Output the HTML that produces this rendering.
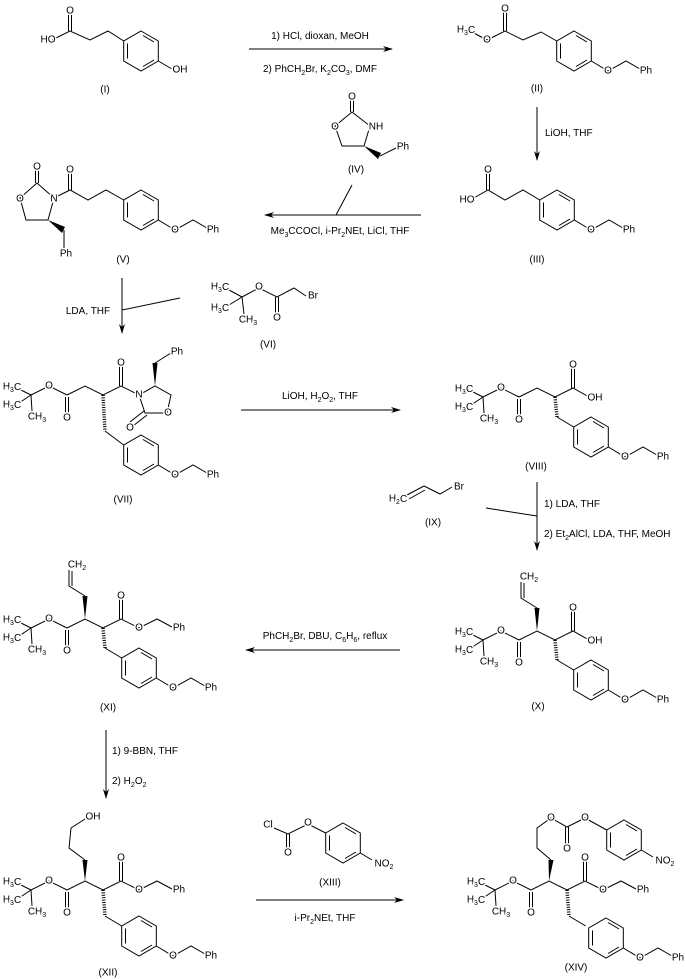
<!DOCTYPE html>
<html><head><meta charset="utf-8"><style>
html,body{margin:0;padding:0;background:#fff}
svg{display:block}
.t{font-family:"Liberation Sans",Arial,sans-serif;font-size:10px;text-anchor:middle;dominant-baseline:central;fill:#000;paint-order:stroke;stroke:#fff;stroke-width:3px;stroke-linejoin:round}
.r{font-family:"Liberation Sans",Arial,sans-serif;font-size:10px;fill:#000;text-anchor:middle}
.s{font-size:7px}
path,line{stroke:#000;stroke-width:1;fill:none}
.h{stroke-width:3.5;stroke-dasharray:1 1.4}
</style></head><body>
<svg width="685" height="979" viewBox="0 0 685 979" xmlns="http://www.w3.org/2000/svg">
<defs>
<g id="ring"><path d="M0,-20 L17.3,-10 L17.3,10 L0,20 L-17.3,10 L-17.3,-10 Z M-13.5,-7.5 L-13.5,7.5 M2,-15.5 L13,-9 M13,9 L2,15.5"/></g>
<g id="arobn"><use href="#ring"/><path d="M17.3,10 L34,20 L52,10 L66,18"/></g>
<g id="tbu"><path d="M0,0 L-12,-6 M0,0 L-12,8 M0,0 L1,16 M0,0 L18,-9 L36,0 M34.5,2 L34.5,20 M37.5,2 L37.5,20"/></g>
<marker id="ah" markerWidth="10" markerHeight="6" refX="9" refY="3" orient="auto" markerUnits="userSpaceOnUse"><path d="M0,0 L10,3 L0,6 L3,3 Z" style="fill:#000;stroke:none"/></marker>
</defs>

<!-- arrows -->
<line x1="249" y1="49" x2="392" y2="49" marker-end="url(#ah)"/>
<line x1="537" y1="107" x2="537" y2="160" marker-end="url(#ah)"/>
<line x1="421" y1="215" x2="265" y2="215" marker-end="url(#ah)"/>
<line x1="336" y1="215" x2="352" y2="185"/>
<line x1="122" y1="278" x2="122" y2="333" marker-end="url(#ah)"/>
<line x1="122" y1="310" x2="180" y2="298"/>
<line x1="241" y1="410" x2="400" y2="410" marker-end="url(#ah)"/>
<line x1="537" y1="482" x2="537" y2="550" marker-end="url(#ah)"/>
<line x1="486" y1="508" x2="537" y2="516"/>
<line x1="400" y1="650" x2="246" y2="650" marker-end="url(#ah)"/>
<line x1="106" y1="730" x2="106" y2="798" marker-end="url(#ah)"/>
<line x1="256" y1="900" x2="403" y2="900" marker-end="url(#ah)"/>

<!-- reagents -->
<text class="r" x="320" y="39">1) HCl, dioxan, MeOH</text>
<text class="r" x="320" y="72">2) PhCH<tspan class="s" dy="3">2</tspan><tspan dy="-3">Br, K</tspan><tspan class="s" dy="3">2</tspan><tspan dy="-3">CO</tspan><tspan class="s" dy="3">3</tspan><tspan dy="-3">, DMF</tspan></text>
<text class="r" x="545" y="136" style="text-anchor:start">LiOH, THF</text>
<text class="r" x="340" y="234">Me<tspan class="s" dy="3">3</tspan><tspan dy="-3">CCOCl, i-Pr</tspan><tspan class="s" dy="3">2</tspan><tspan dy="-3">NEt, LiCl, THF</tspan></text>
<text class="r" x="88" y="314">LDA, THF</text>
<text class="r" x="320" y="399">LiOH, H<tspan class="s" dy="3">2</tspan><tspan dy="-3">O</tspan><tspan class="s" dy="3">2</tspan><tspan dy="-3">, THF</tspan></text>
<text class="r" x="544" y="507" style="text-anchor:start">1) LDA, THF</text>
<text class="r" x="544" y="537" style="text-anchor:start">2) Et<tspan class="s" dy="3">2</tspan><tspan dy="-3">AlCl, LDA, THF, MeOH</tspan></text>
<text class="r" x="325" y="639">PhCH<tspan class="s" dy="3">2</tspan><tspan dy="-3">Br, DBU, C</tspan><tspan class="s" dy="3">6</tspan><tspan dy="-3">H</tspan><tspan class="s" dy="3">6</tspan><tspan dy="-3">, reflux</tspan></text>
<text class="r" x="112" y="754" style="text-anchor:start">1) 9-BBN, THF</text>
<text class="r" x="112" y="784" style="text-anchor:start">2) H<tspan class="s" dy="3">2</tspan><tspan dy="-3">O</tspan><tspan class="s" dy="3">2</tspan></text>
<text class="r" x="325" y="921">i-Pr<tspan class="s" dy="3">2</tspan><tspan dy="-3">NEt, THF</tspan></text>

<!-- I -->
<use href="#ring" x="141" y="51"/>
<path d="M123.7,41 L108,31 L90,40 L70,31 L52,40 M68.5,31 L68.5,13 M71.5,31 L71.5,13 M158.3,61 L172,69"/>
<text class="t" x="70" y="11">O</text><text class="t" x="48" y="40">HO</text><text class="t" x="180" y="70">OH</text>
<text class="t" x="105" y="90">(I)</text>

<!-- II -->
<use href="#arobn" x="574" y="51"/>
<path d="M556.7,41 L541,32 L523,40 L505,31 L487,40 L472,32 M503.5,31 L503.5,11 M506.5,31 L506.5,11"/>
<text class="t" x="505" y="9">O</text><text class="t" x="487" y="40">O</text>
<text class="t" x="466" y="30">H<tspan class="s" dy="3">3</tspan><tspan dy="-3">C</tspan></text>
<text class="t" x="608" y="71">O</text><text class="t" x="646" y="71">Ph</text>
<text class="t" x="537" y="89">(II)</text>

<!-- III -->
<use href="#arobn" x="557" y="210"/>
<path d="M539.7,200 L523,190 L505,200 L488,190 L472,199 M486.5,190 L486.5,172 M489.5,190 L489.5,172"/>
<text class="t" x="488" y="170">O</text><text class="t" x="467" y="200">HO</text>
<text class="t" x="591" y="230">O</text><text class="t" x="629" y="230">Ph</text>
<text class="t" x="537" y="260">(III)</text>

<!-- IV -->
<path d="M352,112 L370,126 L364,146 L342,146 L335,126 Z M350.5,112 L350.5,100 M353.5,112 L353.5,100 M380,156 L396,148"/>
<polygon points="364,146 381,153 378,159" style="fill:#000"/>
<text class="t" x="352" y="97">O</text><text class="t" x="376" y="127">NH</text><text class="t" x="335" y="127">O</text>
<text class="t" x="403" y="147">Ph</text>
<text class="t" x="356" y="170">(IV)</text>

<!-- V -->
<use href="#arobn" x="141" y="210"/>
<path d="M37,183 L54,198 L48,220 L26,220 L20,198 Z M35.5,183 L35.5,169 M38.5,183 L38.5,169 M54,198 L70,190 L88,200 L106,190 L123.7,200 M68.5,190 L68.5,172 M71.5,190 L71.5,172 M64,230 L64,248"/>
<polygon points="48,220 65,227 62,233" style="fill:#000"/>
<text class="t" x="37" y="167">O</text><text class="t" x="20" y="199">O</text><text class="t" x="54" y="199">N</text>
<text class="t" x="70" y="170">O</text><text class="t" x="66" y="254">Ph</text>
<text class="t" x="175" y="230">O</text><text class="t" x="213" y="230">Ph</text>
<text class="t" x="123" y="260">(V)</text>

<!-- VI -->
<path d="M242,297 L229,290 M242,297 L229,305 M242,297 L244,314 M242,297 L259,288 L277,297 L294,288 L306,296 M275.5,297 L275.5,315 M278.5,297 L278.5,315"/>
<text class="t" x="220" y="287">H<tspan class="s" dy="3">3</tspan><tspan dy="-3">C</tspan></text>
<text class="t" x="220" y="308">H<tspan class="s" dy="3">3</tspan><tspan dy="-3">C</tspan></text>
<text class="t" x="248" y="320">CH<tspan class="s" dy="3">3</tspan></text>
<text class="t" x="259" y="287">O</text><text class="t" x="277" y="318">O</text><text class="t" x="313" y="296">Br</text>
<text class="t" x="268" y="345">(VI)</text>

<!-- VII -->
<g transform="translate(31,395)">
<use href="#tbu"/>
<path d="M36,0 L54,-9 L72,0 L90,-9 L108,0 L124,-9 L140,0 L136,18 L114,18 L108,0 M88.5,-9 L88.5,-30 M91.5,-9 L91.5,-30 M113,16 L99,27 M116,20 L102,31 M124,-32 L140,-42 M74,36 L92.7,50"/>
<polygon points="124,-9 121.5,-32 126.5,-32" style="fill:#000"/>
<line class="h" x1="72" y1="0" x2="74" y2="36"/>
<use href="#arobn" x="110" y="60"/>
<text class="t" x="-19" y="-8">H<tspan class="s" dy="3">3</tspan><tspan dy="-3">C</tspan></text>
<text class="t" x="-19" y="10">H<tspan class="s" dy="3">3</tspan><tspan dy="-3">C</tspan></text>
<text class="t" x="6" y="22">CH<tspan class="s" dy="3">3</tspan></text>
<text class="t" x="18" y="-9">O</text><text class="t" x="36" y="23">O</text>
<text class="t" x="90" y="-32">O</text><text class="t" x="108" y="0">N</text><text class="t" x="137" y="18">O</text>
<text class="t" x="99" y="33">O</text><text class="t" x="146" y="-43">Ph</text>
<text class="t" x="144" y="80">O</text><text class="t" x="182" y="80">Ph</text>
</g>
<text class="t" x="123" y="500">(VII)</text>

<!-- VIII -->
<g transform="translate(483,397)">
<use href="#tbu"/>
<path d="M36,0 L54,-9 L72,0 L90,-9 L106,0 M88.5,-9 L88.5,-30 M91.5,-9 L91.5,-30 M74,20 L90.7,30"/>
<line class="h" x1="72" y1="0" x2="74" y2="20"/>
<use href="#arobn" x="108" y="40"/>
<text class="t" x="-19" y="-8">H<tspan class="s" dy="3">3</tspan><tspan dy="-3">C</tspan></text>
<text class="t" x="-19" y="10">H<tspan class="s" dy="3">3</tspan><tspan dy="-3">C</tspan></text>
<text class="t" x="6" y="22">CH<tspan class="s" dy="3">3</tspan></text>
<text class="t" x="18" y="-9">O</text><text class="t" x="36" y="23">O</text>
<text class="t" x="90" y="-32">O</text><text class="t" x="112" y="1">OH</text>
<text class="t" x="142" y="60">O</text><text class="t" x="180" y="60">Ph</text>
</g>
<text class="t" x="536" y="467">(VIII)</text>

<!-- IX -->
<path d="M407,495 L424,486 M409,499 L425,490 M424,486 L440,494 L452,487"/>
<text class="t" x="398" y="499">H<tspan class="s" dy="3">2</tspan><tspan dy="-3">C</tspan></text>
<text class="t" x="459" y="487">Br</text>
<text class="t" x="433" y="523">(IX)</text>

<!-- X -->
<g transform="translate(483,640)">
<use href="#tbu"/>
<path d="M36,0 L54,-9 L72,0 L90,-9 L106,0 M88.5,-9 L88.5,-30 M91.5,-9 L91.5,-30 M74,20 L90.7,30 M54,-32 L38,-42 L38,-58 M41,-42 L41,-57"/>
<polygon points="54,-9 51.5,-32 56.5,-32" style="fill:#000"/>
<line class="h" x1="72" y1="0" x2="74" y2="20"/>
<use href="#arobn" x="108" y="40"/>
<text class="t" x="-19" y="-8">H<tspan class="s" dy="3">3</tspan><tspan dy="-3">C</tspan></text>
<text class="t" x="-19" y="10">H<tspan class="s" dy="3">3</tspan><tspan dy="-3">C</tspan></text>
<text class="t" x="6" y="22">CH<tspan class="s" dy="3">3</tspan></text>
<text class="t" x="18" y="-9">O</text><text class="t" x="36" y="23">O</text>
<text class="t" x="90" y="-32">O</text><text class="t" x="112" y="1">OH</text>
<text class="t" x="46" y="-63">CH<tspan class="s" dy="3">2</tspan></text>
<text class="t" x="142" y="60">O</text><text class="t" x="180" y="60">Ph</text>
</g>
<text class="t" x="538" y="707">(X)</text>

<!-- XI -->
<g transform="translate(31,628)">
<use href="#tbu"/>
<path d="M36,0 L54,-9 L72,0 L90,-9 L108,0 L126,-9 L141,-1 M88.5,-9 L88.5,-30 M91.5,-9 L91.5,-30 M74,20 L90.7,30 M54,-32 L38,-42 L38,-58 M41,-42 L41,-57"/>
<polygon points="54,-9 51.5,-32 56.5,-32" style="fill:#000"/>
<line class="h" x1="72" y1="0" x2="74" y2="20"/>
<use href="#arobn" x="108" y="40"/>
<text class="t" x="-19" y="-8">H<tspan class="s" dy="3">3</tspan><tspan dy="-3">C</tspan></text>
<text class="t" x="-19" y="10">H<tspan class="s" dy="3">3</tspan><tspan dy="-3">C</tspan></text>
<text class="t" x="6" y="22">CH<tspan class="s" dy="3">3</tspan></text>
<text class="t" x="18" y="-9">O</text><text class="t" x="36" y="23">O</text>
<text class="t" x="90" y="-32">O</text><text class="t" x="108" y="0">O</text><text class="t" x="148" y="0">Ph</text>
<text class="t" x="46" y="-63">CH<tspan class="s" dy="3">2</tspan></text>
<text class="t" x="142" y="60">O</text><text class="t" x="180" y="60">Ph</text>
</g>
<text class="t" x="108" y="708">(XI)</text>

<!-- XII -->
<g transform="translate(31,890)">
<use href="#tbu"/>
<path d="M36,0 L54,-9 L72,0 L90,-9 L108,0 L126,-9 L141,-1 M88.5,-9 L88.5,-30 M91.5,-9 L91.5,-30 M74,26 L90.7,36 M54,-30 L38,-42 L40,-62 L54,-71"/>
<polygon points="54,-9 51.5,-30 56.5,-30" style="fill:#000"/>
<line class="h" x1="72" y1="0" x2="74" y2="26"/>
<use href="#arobn" x="108" y="46"/>
<text class="t" x="-19" y="-8">H<tspan class="s" dy="3">3</tspan><tspan dy="-3">C</tspan></text>
<text class="t" x="-19" y="10">H<tspan class="s" dy="3">3</tspan><tspan dy="-3">C</tspan></text>
<text class="t" x="6" y="22">CH<tspan class="s" dy="3">3</tspan></text>
<text class="t" x="18" y="-9">O</text><text class="t" x="36" y="23">O</text>
<text class="t" x="90" y="-32">O</text><text class="t" x="108" y="0">O</text><text class="t" x="148" y="0">Ph</text>
<text class="t" x="62" y="-73">OH</text>
<text class="t" x="142" y="66">O</text><text class="t" x="180" y="66">Ph</text>
</g>
<text class="t" x="108" y="973">(XII)</text>

<!-- XIII -->
<use href="#ring" x="343" y="843"/>
<path d="M274,828 L288,834 L308,824 L325.7,833 M286.5,834 L286.5,851 M289.5,834 L289.5,851 M360.3,853 L372,860"/>
<text class="t" x="268" y="825">Cl</text><text class="t" x="288" y="853">O</text><text class="t" x="308" y="823">O</text>
<text class="t" x="384" y="864">NO<tspan class="s" dy="3">2</tspan></text>
<text class="t" x="330" y="883">(XIII)</text>

<!-- XIV -->
<g transform="translate(495,890)">
<use href="#tbu"/>
<path d="M36,0 L54,-9 L72,0 L90,-9 L108,0 L126,-9 L141,-1 M88.5,-9 L88.5,-30 M91.5,-9 L91.5,-30 M74,26 L90.7,36 M56,-30 L42,-42 L42,-62 L56,-72 L72,-63 L90,-72 L111.7,-60 M70.5,-63 L70.5,-44 M73.5,-63 L73.5,-44 M146.3,-40 L158,-33"/>
<polygon points="54,-9 53.5,-30 58.5,-30" style="fill:#000"/>
<line class="h" x1="72" y1="0" x2="74" y2="26"/>
<use href="#ring" x="129" y="-50"/>
<use href="#arobn" x="111" y="48"/>
<text class="t" x="-19" y="-8">H<tspan class="s" dy="3">3</tspan><tspan dy="-3">C</tspan></text>
<text class="t" x="-19" y="10">H<tspan class="s" dy="3">3</tspan><tspan dy="-3">C</tspan></text>
<text class="t" x="6" y="22">CH<tspan class="s" dy="3">3</tspan></text>
<text class="t" x="18" y="-9">O</text><text class="t" x="36" y="23">O</text>
<text class="t" x="90" y="-32">O</text><text class="t" x="108" y="0">O</text><text class="t" x="148" y="0">Ph</text>
<text class="t" x="56" y="-72">O</text><text class="t" x="90" y="-72">O</text><text class="t" x="72" y="-41">O</text>
<text class="t" x="170" y="-29">NO<tspan class="s" dy="3">2</tspan></text>
<text class="t" x="145" y="68">O</text><text class="t" x="183" y="68">Ph</text>
</g>
<text class="t" x="576" y="968">(XIV)</text>
</svg>
</body></html>
